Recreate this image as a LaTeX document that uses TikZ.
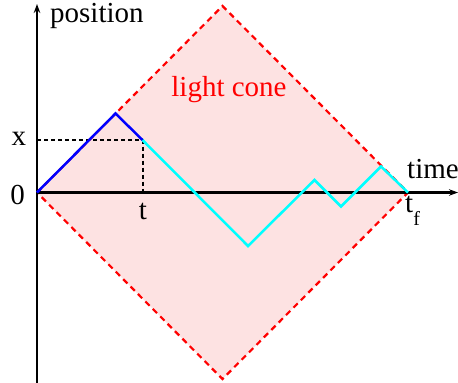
\documentclass[tikz,border=0pt]{standalone}
\usepackage{fontspec}
\setmainfont{Liberation Serif}
\usetikzlibrary{arrows.meta}
\definecolor{conefill}{RGB}{253,226,226}
\definecolor{pathcyan}{RGB}{0,255,255}
\definecolor{pathblue}{RGB}{0,0,255}
\definecolor{conered}{RGB}{255,0,0}
\begin{document}
\begin{tikzpicture}[x=1pt,y=-1pt,
  lbl/.style={inner sep=0pt, font=\fontsize{29}{31}\selectfont},
  axis/.style={line width=2.4pt, -{Stealth[length=9pt,width=6.5pt]}},
  cone/.style={draw=conered, line width=2.2pt, dash pattern=on 6pt off 4.5pt, fill=conefill},
  guide/.style={line width=2pt, dash pattern=on 4pt off 3pt},
  pathA/.style={pathblue, line width=2.5pt},
  pathB/.style={pathcyan, line width=2.5pt}]
\useasboundingbox (0,0) rectangle (458,383);
% coordinates
\coordinate (O) at (37,192.5);
\coordinate (Ctop) at (222.5,6);
\coordinate (Cright) at (408,192.5);
\coordinate (Cbot) at (222.5,379);
\coordinate (P1) at (115.5,113.5);
\coordinate (P2) at (142.5,140);
\coordinate (Q1) at (248,246);
\coordinate (Q2) at (314.5,180);
\coordinate (Q3) at (341,206.5);
\coordinate (Q4) at (381,166.5);
\coordinate (Xa) at (37,140);
\coordinate (Ta) at (142.5,192.5);
\coordinate (Yb) at (37,383);
\coordinate (Ye) at (37,4);
\coordinate (Xe) at (458,192.5);
% light cone
\draw[cone] (O) -- (Ctop) -- (Cright) -- (Cbot) -- cycle;
% guides
\draw[guide] (Xa) -- (P2) -- (Ta);
% axes
\draw[axis] (Yb) -- (Ye);
\draw[axis] (O) -- (Xe);
% paths
\draw[pathA] (O) -- (P1) -- (P2);
\draw[pathB] (P2) -- (Q1) -- (Q2) -- (Q3) -- (Q4) -- (Cright);
% labels
\node[lbl, anchor=base west] (lpos) at (50,22) {position};
\node[lbl, anchor=base, text=conered] (lcone) at (229,96.5) {light cone};
\node[lbl, anchor=base] (lx) at (19,145) {x};
\node[lbl, anchor=base] (l0) at (17.5,204) {0};
\node[lbl, anchor=base] (lt) at (143,219) {t};
\node[lbl, anchor=base west] (ltime) at (407,178) {time};
\node[lbl, anchor=base west] (ltf) at (405,212) {t\raisebox{-13pt}{\fontsize{20}{20}\selectfont f}};
\end{tikzpicture}
\end{document}
